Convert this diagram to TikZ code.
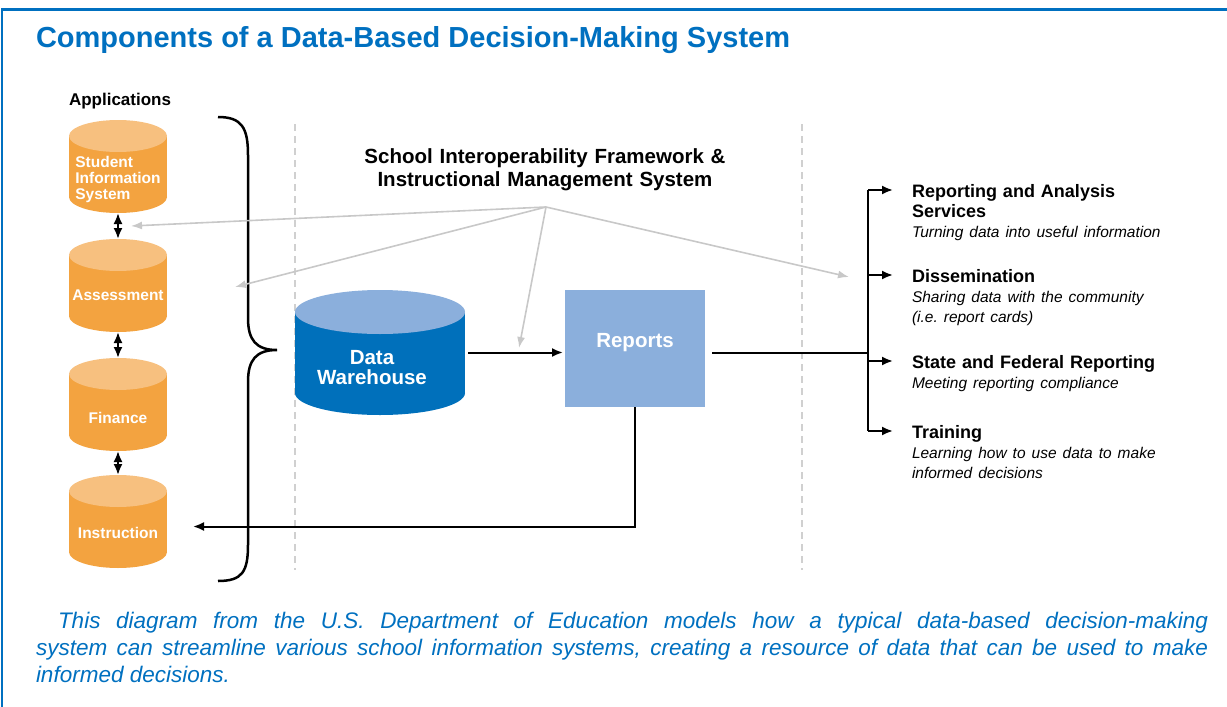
\documentclass[tikz,border=0pt]{standalone}
\usepackage{fontspec}
\setmainfont{Liberation Sans}
\usepackage{xcolor}
\usetikzlibrary{positioning,arrows.meta}

\definecolor{deptblue}{RGB}{0,112,192}
\definecolor{apporange}{RGB}{243,163,64}
\definecolor{apptop}{RGB}{247,192,127}
\definecolor{dwblue}{RGB}{0,112,187}
\definecolor{dwtop}{RGB}{139,175,220}
\definecolor{linkgray}{RGB}{200,200,200}
\definecolor{dashgray}{RGB}{208,208,208}

\newcommand{\fsz}[2]{\fontsize{#1}{#2}\selectfont}
\newcommand{\desc}[1]{{\mdseries\itshape\fsz{15.5}{20}#1}}

\tikzset{
  drum/.style n args={5}{inner sep=0pt, outer sep=0pt, minimum width=#1, minimum height=#2,
    path picture={
      \fill[#4] ([yshift=-#3]path picture bounding box.north west) rectangle ([yshift=#3]path picture bounding box.south east);
      \fill[#4] ([yshift=#3]path picture bounding box.south) ellipse [x radius=#1/2, y radius=#3];
      \fill[#5] ([yshift=-#3]path picture bounding box.north) ellipse [x radius=#1/2, y radius=#3];
    }},
  app/.style={drum={98pt}{93pt}{16pt}{apporange}{apptop}},
  drumtext/.style={text=white, font=\bfseries\fsz{15.5}{16}, align=center},
  item/.style={anchor=base west, inner sep=0pt, text width=310pt, align=left, font=\bfseries\fsz{18}{20}},
  link/.style={->, linkgray, line width=1.6pt, >={Latex[length=11pt,width=8pt]}},
}

\begin{document}
\frenchspacing
\begin{tikzpicture}[x=1pt, y=-1pt, >={Latex[length=11pt,width=9pt]}, line width=2pt]
    \useasboundingbox (0,0) rectangle (1227,707);
    % frame and title
    \draw[deptblue, line width=3pt] (1,9) -- (1227,9);
    \draw[deptblue, line width=1.5pt] (2,8) -- (2,707);
    \node[anchor=base west, inner sep=0pt, text=deptblue, font=\bfseries\fsz{29}{32}] (title) at (35,47) {Components of a Data-Based Decision-Making System};

    % applications
    \node[anchor=base west, inner sep=0pt, font=\bfseries\fsz{17}{20}] (apps) at (68,105) {Applications};
    \node[app, label={[drumtext, align=left, yshift=-13pt]center:Student\\Information\\System}] (sis) at (118,166.5) {};
    \node[app, below=26pt of sis, label={[drumtext, yshift=-10pt]center:Assessment}] (ass) {};
    \node[app, below=26pt of ass, label={[drumtext, yshift=-13pt]center:Finance}] (fin) {};
    \node[app, below=24pt of fin, label={[drumtext, yshift=-11pt]center:Instruction}] (ins) {};
    \draw[<->] (sis) -- (ass);
    \draw[<->] (ass) -- (fin);
    \draw[<->] (fin) -- (ins);

    % brace
    \draw[line width=2.5pt] (218,117) .. controls (242,117) and (248,128) .. (248,155) -- (248,318)
        .. controls (248,340) and (256,350) .. (277,350) .. controls (256,350) and (248,360) .. (248,382)
        -- (248,545) .. controls (248,572) and (242,581) .. (218,581);

    % dividers
    \draw[dashgray, line width=1.2pt, dash pattern=on 7pt off 5pt] (295,124) -- (295,570);
    \draw[dashgray, line width=1.2pt, dash pattern=on 7pt off 5pt] (802,124) -- (802,570);

    % framework
    \node[anchor=base, inner sep=0pt, text width=420pt, align=center, font=\bfseries\fsz{20.5}{23}] (sif) at (545,163) {School Interoperability Framework \&\\Instructional Management System};
    \coordinate (hub) at (546,207);
    \coordinate (toSis) at (131,226);
    \coordinate (toAss) at (235,287);
    \coordinate (toRep) at (519,348);
    \coordinate (toOut) at (849,277);
    \draw[link] (hub) -- (toSis);
    \draw[link] (hub) -- (toAss);
    \draw[link] (hub) -- (toRep);
    \draw[link] (hub) -- (toOut);

    % warehouse and reports
    \node[drum={170pt}{125pt}{22pt}{dwblue}{dwtop}, label={[drumtext, font=\bfseries\fsz{20.5}{20}, xshift=-8pt, yshift=-15pt]center:Data\\Warehouse}] (dw) at (380,352.5) {};
    \node[fill=dwtop, inner sep=0pt, outer sep=0pt, minimum width=140pt, minimum height=117pt, right=100pt of dw, yshift=4pt, label={[drumtext, font=\bfseries\fsz{20.5}{20}, yshift=6pt]center:Reports}] (rep) {};
    \draw[->, shorten <=3pt, shorten >=2pt] (dw.east) -- (dw.east -| rep.west);
    \draw[->] (rep.south) |- ([xshift=26pt,yshift=-5pt]ins.east);

    % outputs
    \node[item] (rpt) at (911,197) {Reporting and Analysis\\Services\\\desc{Turning data into useful information}};
    \node[item] (dis) at (911,282) {Dissemination\\\desc{Sharing data with the community\\(i.e. report cards)}};
    \node[item] (sfr) at (911,368) {State and Federal Reporting\\\desc{Meeting reporting compliance}};
    \node[item] (trn) at (911,438) {Training\\\desc{Learning how to use data to make\\informed decisions}};
    \coordinate (bus) at (868,353);
    \foreach \sv in {rpt,dis,sfr,trn}
        \coordinate (\sv-in) at ([xshift=-18pt,yshift=7pt]\sv.base west);
    \draw[shorten <=7pt] (rep.east |- bus) -- (bus);
    \draw (bus |- rpt-in) -- (bus |- trn-in);
    \foreach \sv in {rpt,dis,sfr,trn}
        \draw[->] (bus |- \sv-in) -- (\sv-in);

    % caption
    \node[anchor=base west, inner sep=0pt, text width=1172pt, align=justify, text=deptblue, font=\itshape\fsz{22.5}{27}] (cap) at (35,628) {\hspace*{22pt}This diagram from the U.S. Department of Education models how a typical data-based decision-making\linebreak system can streamline various school information systems, creating a resource of data that can be used to make\linebreak informed decisions.};
\end{tikzpicture}
\end{document}
